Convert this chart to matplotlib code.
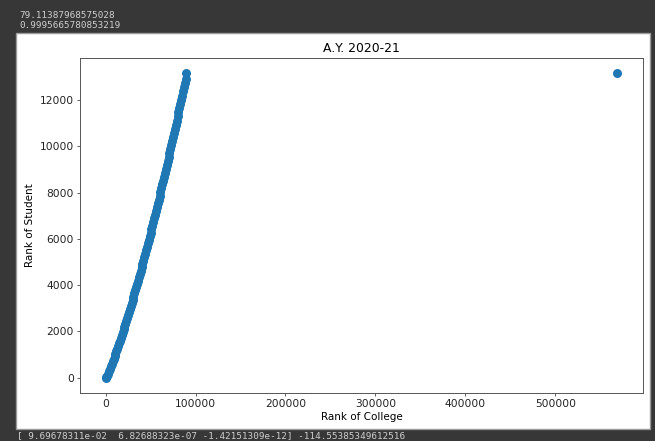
import matplotlib.pyplot as plt
from matplotlib.patches import Rectangle

# college rank (x) against student rank (y), A.Y. 2020-21
college_rank = [
    0, 1000, 2000, 3000, 4000, 5000, 6000, 7000, 8000, 9000,
    10000, 11000, 12000, 13000, 14000, 15000, 16000, 17000, 18000, 19000,
    20000, 21000, 22000, 23000, 24000, 25000, 26000, 27000, 28000, 29000,
    30000, 31000, 32000, 33000, 34000, 35000, 36000, 37000, 38000, 39000,
    40000, 41000, 42000, 43000, 44000, 45000, 46000, 47000, 48000, 49000,
    50000, 51000, 52000, 53000, 54000, 55000, 56000, 57000, 58000, 59000,
    60000, 61000, 62000, 63000, 64000, 65000, 66000, 67000, 68000, 69000,
    70000, 71000, 72000, 73000, 74000, 75000, 76000, 77000, 78000, 79000,
    80000, 81000, 82000, 83000, 84000, 85000, 86000, 87000, 88000, 89000,
    89800, 569000,
]
student_rank = [
    1, 30, 85, 182, 284, 387, 491, 597, 704, 812,
    922, 1033, 1145, 1258, 1373, 1489, 1606, 1724, 1844, 1964,
    2086, 2210, 2334, 2460, 2586, 2714, 2843, 2973, 3105, 3237,
    3370, 3505, 3641, 3778, 3916, 4055, 4195, 4336, 4478, 4621,
    4765, 4911, 5057, 5204, 5353, 5502, 5652, 5803, 5956, 6109,
    6263, 6418, 6574, 6731, 6889, 7047, 7207, 7367, 7529, 7691,
    7854, 8018, 8183, 8349, 8515, 8682, 8850, 9019, 9189, 9360,
    9531, 9703, 9876, 10049, 10223, 10398, 10574, 10751, 10928, 11106,
    11284, 11463, 11643, 11824, 12005, 12187, 12370, 12553, 12737, 12921,
    13150, 13150,
]

rmse_text = "79.11387968575028"
r2_text = "0.9995665780853219"
coef_text = "[ 9.69678311e-02  6.82688323e-07 -1.42151309e-12] -114.55385349612516"

W, H = 655, 441
DARK = "#373737"
MONO_COLOR = "#cfcfcf"


def px(x, y):
    # pixel position (from top-left) to figure fraction
    return x / W, 1 - y / H


def main():
    fig = plt.figure(figsize=(W / 100, H / 100), dpi=100, facecolor=DARK)

    # white output panel, kept behind the axes
    x0, y0 = px(16, 429)
    x1, y1 = px(650, 33)
    fig.patches.append(
        Rectangle((x0, y0), x1 - x0, y1 - y0, transform=fig.transFigure,
                  facecolor="white", edgecolor="#9a9a9a", linewidth=1.0,
                  zorder=-10)
    )

    for text, ty in [(rmse_text, 15), (r2_text, 26)]:
        fig.text(19 / W, 1 - ty / H, text, family="DejaVu Sans Mono",
                 fontsize=6.7, color=MONO_COLOR, va="center", ha="left")
    fig.text(17 / W, 1 - 436 / H, coef_text, family="DejaVu Sans Mono",
             fontsize=6.7, color=MONO_COLOR, va="center", ha="left")

    left, top = px(80, 58)
    right, bottom = px(643, 393)
    ax = fig.add_axes([left, bottom, right - left, top - bottom])

    ax.scatter(college_rank, student_rank, s=42, color="#1f77b4",
               linewidths=0, snap=False)

    ax.set_title("A.Y. 2020-21", fontsize=8.9, pad=4)
    ax.set_xlabel("Rank of College", fontsize=7.5, labelpad=2)
    ax.set_ylabel("Rank of Student", fontsize=7.5, labelpad=3)
    ax.set_xticks([0, 100000, 200000, 300000, 400000, 500000])
    ax.set_yticks([0, 2000, 4000, 6000, 8000, 10000, 12000])
    ax.tick_params(labelsize=7.7, length=2.5, width=0.6, pad=2,
                   color="#444444", labelcolor="#222222")
    for spine in ax.spines.values():
        spine.set_linewidth(0.7)
        spine.set_color("#555555")

    plt.savefig("out.png", dpi=100, facecolor=DARK)
    plt.close()


if __name__ == "__main__":
    main()
